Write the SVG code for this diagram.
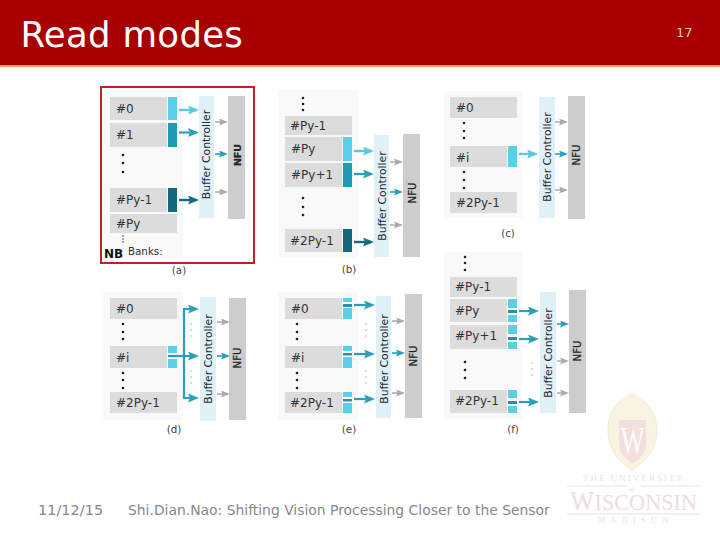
<svg xmlns="http://www.w3.org/2000/svg" width="720" height="540" viewBox="0 0 720 540">
<style>
text{font-family:"DejaVu Sans","Liberation Sans",sans-serif}
.panel{fill:#f9f9f9}
.bank{fill:#dcdcdc}
.bt{font-size:12px;fill:#333}
.bc{fill:#dff0f7}
.nfu{fill:#cdcdcd}
.bct{font-size:10.8px;fill:#1f2a2e;text-anchor:middle}
.nft{font-size:10.2px;fill:#222;stroke:#222;stroke-width:.25;text-anchor:middle}
.cap{font-size:10.3px;fill:#444;text-anchor:middle}
.l{fill:#5bcfe6}.m{fill:#1f9bb5}.d{fill:#14677d}.s{fill:#2b8fa8}
.dot{fill:#222}
.tdot{fill:#8fbcc8}
.al{stroke:#5cc8e0;stroke-width:2.4;fill:none;marker-end:url(#hl)}
.am{stroke:#2aa0b8;stroke-width:2.2;fill:none;marker-end:url(#hm)}
.ad{stroke:#17697f;stroke-width:2.4;fill:none;marker-end:url(#hd)}
.ag{stroke:#aaa;stroke-width:1.5;fill:none;marker-end:url(#hg)}
.as{stroke:#2aa0b8;stroke-width:1.6;fill:none;marker-end:url(#hs)}
.wt{fill:#efdcdc}
text.wt{font-family:"Liberation Serif",serif}
</style>
<defs>
<marker id="hl" markerUnits="userSpaceOnUse" viewBox="0 0 11 9" refX="8" refY="4.5" markerWidth="11" markerHeight="9" orient="auto"><path d="M0,0L11,4.5L0,9L2,4.5Z" fill="#5cc8e0"/></marker>
<marker id="hm" markerUnits="userSpaceOnUse" viewBox="0 0 11 9" refX="8" refY="4.5" markerWidth="11" markerHeight="9" orient="auto"><path d="M0,0L11,4.5L0,9L2,4.5Z" fill="#2aa0b8"/></marker>
<marker id="hd" markerUnits="userSpaceOnUse" viewBox="0 0 11 9" refX="8" refY="4.5" markerWidth="11" markerHeight="9" orient="auto"><path d="M0,0L11,4.5L0,9L2,4.5Z" fill="#17697f"/></marker>
<marker id="hg" markerUnits="userSpaceOnUse" viewBox="0 0 9 7" refX="7" refY="3.5" markerWidth="9" markerHeight="7" orient="auto"><path d="M0,0L9,3.5L0,7L1.5,3.5Z" fill="#aaa"/></marker>
<marker id="hs" markerUnits="userSpaceOnUse" viewBox="0 0 9 7" refX="7" refY="3.5" markerWidth="9" markerHeight="7" orient="auto"><path d="M0,0L9,3.5L0,7L1.5,3.5Z" fill="#2aa0b8"/></marker>
</defs>
<rect width="720" height="540" fill="#fff"/>
<rect width="720" height="65" fill="#a80000"/>
<rect y="65" width="720" height="2" fill="#dba95c"/>
<text x="20.500" y="47" font-size="35.500" letter-spacing=".3" fill="#fff">Read modes</text>
<text x="676" y="37" font-size="13" fill="#eec4c4">17</text>

<g id="logo">
<path d="M632,393C637,396 640,400 645,402C652,408 657,418 657,430C657,450 645,462 632,470C619,462 608,450 608,430C608,418 612,408 619,402C624,400 627,396 632,393Z" fill="#f9f4e2" stroke="#f3ecd0"/>
<path d="M619,420H646V444C646,453 639,460 632.500,463C626,460 619,453 619,444Z" fill="#f4dede"/>
<text transform="translate(632.500 453) scale(.66 1)" font-size="38" text-anchor="middle" fill="#fff" style="font-family:'Liberation Serif',serif">W</text>
<text class="wt" x="583" y="481" font-size="9" textLength="100" lengthAdjust="spacing">THE UNIVERSITY</text>
<text class="wt" x="629" y="491" font-size="7" font-style="italic">of</text>
<path d="M567,486H626M640,486H700M567,514H700" stroke="#eee0e0" fill="none"/>
<text class="wt" x="570" y="510" textLength="127" lengthAdjust="spacingAndGlyphs"><tspan font-size="28">W</tspan><tspan font-size="24">ISCONSIN</tspan></text>
<text class="wt" x="598" y="523" font-size="8" textLength="70" lengthAdjust="spacing">MADISON</text>
</g>

<g id="footer">
<text x="38" y="515" font-size="14.500" fill="#888">11/12/15</text>
<text x="128" y="515" font-size="13.900" fill="#888">Shi.Dian.Nao: Shifting Vision Processing Closer to the Sensor</text>
</g>

<g id="panel-a">
<rect class="panel" x="103" y="90" width="80" height="167"/>
<rect x="101" y="87" width="153" height="176" fill="none" stroke="#c0202a" stroke-width="2"/>
<g id="a-b0"><rect class="bank" x="110" y="97" width="57" height="23"/><rect class="l" x="168" y="97" width="9" height="23"/><text class="bt" x="116" y="113">#0</text></g>
<g id="a-b1"><rect class="bank" x="110" y="123" width="57" height="24"/><rect class="m" x="168" y="123" width="9" height="24"/><text class="bt" x="116" y="139">#1</text></g>
<g id="a-dots"><circle class="dot" cx="123" cy="155" r="1.300"/><circle class="dot" cx="123" cy="163" r="1.300"/><circle class="dot" cx="123" cy="172" r="1.300"/></g>
<g id="a-bpy1"><rect class="bank" x="110" y="188" width="57" height="24"/><rect class="d" x="168" y="188" width="9" height="24"/><text class="bt" x="116" y="204">#Py-1</text></g>
<g id="a-bpy"><rect class="bank" x="110" y="214" width="67" height="19"/><text class="bt" x="116" y="228">#Py</text></g>
<g id="a-dots2"><circle class="dot" cx="123" cy="236" r=".7"/><circle class="dot" cx="123" cy="239" r=".7"/><circle class="dot" cx="123" cy="242" r=".7"/></g>
<g id="a-banks"><text x="104" y="258" font-size="12" font-weight="bold" fill="#111">NB</text><text x="128" y="255" font-size="10.300" fill="#333">Banks:</text></g>
<g id="a-bc"><rect class="bc" x="199" y="96" width="15" height="122"/><text class="bct" transform="translate(210 154.500) rotate(-90)">Buffer Controller</text></g>
<g id="a-nfu"><rect class="nfu" x="228" y="96" width="17" height="123"/><text class="nft" transform="translate(241 155) rotate(-90)" style="font-size:9.500px;font-weight:bold">NFU</text></g>
<text class="cap" x="179" y="274">(a)</text>
<g class="connectors">
<path class="al" d="M179,110H196"/><path class="am" d="M179,132.500H196"/><path class="ad" d="M179,200H196"/>
<path class="ag" d="M215,122H226"/><path class="as" d="M215,154H226"/><path class="ag" d="M215,192H226"/>
</g>
</g>

<g id="panel-b">
<rect class="panel" x="278" y="90" width="80" height="168"/>
<g id="b-dots"><circle class="dot" cx="303" cy="98" r="1.300"/><circle class="dot" cx="303" cy="104" r="1.300"/><circle class="dot" cx="303" cy="110" r="1.300"/></g>
<g id="b-bpy1"><rect class="bank" x="285" y="116" width="67" height="19"/><text class="bt" x="290" y="130">#Py-1</text></g>
<g id="b-bpy"><rect class="bank" x="285" y="137" width="57" height="24"/><rect class="l" x="343" y="137" width="9" height="24"/><text class="bt" x="291" y="153">#Py</text></g>
<g id="b-bpy2"><rect class="bank" x="285" y="163" width="57" height="24"/><rect class="m" x="343" y="163" width="9" height="24"/><text class="bt" x="291" y="179">#Py+1</text></g>
<g id="b-dots2"><circle class="dot" cx="303" cy="198" r="1.300"/><circle class="dot" cx="303" cy="207" r="1.300"/><circle class="dot" cx="303" cy="215" r="1.300"/></g>
<g id="b-b2py"><rect class="bank" x="285" y="229" width="57" height="23"/><rect class="d" x="343" y="229" width="9" height="23"/><text class="bt" x="290" y="245">#2Py-1</text></g>
<g id="b-bc"><rect class="bc" x="374" y="135" width="15" height="122"/><text class="bct" transform="translate(386 196) rotate(-90)">Buffer Controller</text></g>
<g id="b-nfu"><rect class="nfu" x="403" y="134" width="17" height="123"/><text class="nft" transform="translate(415.500 193) rotate(-90)">NFU</text></g>
<text class="cap" x="349" y="273">(b)</text>
<g class="connectors">
<path class="al" d="M354,151H371"/><path class="am" d="M354,174H371"/><path class="ad" d="M354,242H371"/>
<path class="ag" d="M390,162H401"/><path class="as" d="M390,192H401"/><path class="ag" d="M390,225H401"/>
</g>
</g>

<g id="panel-c">
<rect class="panel" x="444" y="91" width="79" height="127"/>
<g id="c-b0"><rect class="bank" x="450" y="97" width="67" height="21"/><text class="bt" x="456" y="112">#0</text></g>
<g id="c-dots"><circle class="dot" cx="464" cy="123" r="1.300"/><circle class="dot" cx="464" cy="131" r="1.300"/><circle class="dot" cx="464" cy="138" r="1.300"/></g>
<g id="c-bi"><rect class="bank" x="450" y="146" width="57" height="21"/><rect class="l" x="508" y="146" width="9" height="21"/><text class="bt" x="456" y="162">#i</text></g>
<g id="c-dots2"><circle class="dot" cx="464" cy="172" r="1.300"/><circle class="dot" cx="464" cy="180" r="1.300"/><circle class="dot" cx="464" cy="188" r="1.300"/></g>
<g id="c-b2py"><rect class="bank" x="450" y="192" width="67" height="21"/><text class="bt" x="456" y="207">#2Py-1</text></g>
<g id="c-bc"><rect class="bc" x="539" y="97" width="16" height="121"/><text class="bct" transform="translate(551 157) rotate(-90)">Buffer Controller</text></g>
<g id="c-nfu"><rect class="nfu" x="568" y="96" width="17" height="123"/><text class="nft" transform="translate(580 155) rotate(-90)">NFU</text></g>
<text class="cap" x="508" y="237">(c)</text>
<g class="connectors">
<path class="al" d="M519,154H535"/>
<path class="ag" d="M555,122H566"/><path class="as" d="M555,154H566"/><path class="ag" d="M555,190H566"/>
</g>
</g>

<g id="panel-d">
<rect class="panel" x="103" y="292" width="80" height="128"/>
<g id="d-b0"><rect class="bank" x="110" y="298" width="67" height="21"/><text class="bt" x="116" y="313">#0</text></g>
<g id="d-dots"><circle class="dot" cx="123" cy="324" r="1.300"/><circle class="dot" cx="123" cy="332" r="1.300"/><circle class="dot" cx="123" cy="339" r="1.300"/></g>
<g id="d-bi"><rect class="bank" x="110" y="346" width="57" height="22"/><rect class="l" x="168" y="346" width="9" height="7"/><rect class="l" x="168" y="359" width="9" height="9"/><text class="bt" x="116" y="362">#i</text></g>
<g id="d-dots2"><circle class="dot" cx="123" cy="373" r="1.300"/><circle class="dot" cx="123" cy="380" r="1.300"/><circle class="dot" cx="123" cy="388" r="1.300"/></g>
<g id="d-b2py"><rect class="bank" x="110" y="392" width="67" height="21"/><text class="bt" x="116" y="407">#2Py-1</text></g>
<g id="d-bc"><rect class="bc" x="200" y="297" width="16" height="124"/><text class="bct" transform="translate(212 359) rotate(-90)">Buffer Controller</text></g>
<g id="d-nfu"><rect class="nfu" x="229" y="298" width="17" height="122"/><text class="nft" transform="translate(241 358) rotate(-90)">NFU</text></g>
<g id="d-tdots"><circle class="tdot" cx="191" cy="324" r=".8"/><circle class="tdot" cx="191" cy="330" r=".8"/><circle class="tdot" cx="191" cy="336" r=".8"/><circle class="tdot" cx="191" cy="371" r=".8"/><circle class="tdot" cx="191" cy="377" r=".8"/><circle class="tdot" cx="191" cy="383" r=".8"/></g>
<text class="cap" x="174" y="433">(d)</text>
<g class="connectors">
<path class="am" d="M168,356H196"/><path class="am" d="M184,356V309H196"/><path class="am" d="M184,356V398H196"/>
<path class="ag" d="M217,322H228"/><path class="as" d="M217,356H228"/><path class="ag" d="M217,394H228"/>
</g>
</g>

<g id="panel-e">
<rect class="panel" x="278" y="292" width="80" height="128"/>
<g id="e-b0"><rect class="bank" x="285" y="298" width="57" height="21"/><rect class="l" x="343" y="298" width="9" height="4"/><rect class="s" x="343" y="304" width="9" height="3"/><rect class="l" x="343" y="308" width="9" height="11"/><text class="bt" x="291" y="313">#0</text></g>
<g id="e-dots"><circle class="dot" cx="297" cy="324" r="1.300"/><circle class="dot" cx="297" cy="332" r="1.300"/><circle class="dot" cx="297" cy="339" r="1.300"/></g>
<g id="e-bi"><rect class="bank" x="285" y="346" width="57" height="22"/><rect class="l" x="343" y="346" width="9" height="5"/><rect class="s" x="343" y="353" width="9" height="2.500"/><rect class="l" x="343" y="357" width="9" height="11"/><text class="bt" x="291" y="362">#i</text></g>
<g id="e-dots2"><circle class="dot" cx="297" cy="373" r="1.300"/><circle class="dot" cx="297" cy="380" r="1.300"/><circle class="dot" cx="297" cy="388" r="1.300"/></g>
<g id="e-b2py"><rect class="bank" x="285" y="392" width="57" height="21"/><rect class="l" x="343" y="392" width="9" height="5"/><rect class="s" x="343" y="399" width="9" height="2.500"/><rect class="l" x="343" y="403" width="9" height="10"/><text class="bt" x="290" y="407">#2Py-1</text></g>
<g id="e-bc"><rect class="bc" x="376" y="296" width="15" height="122"/><text class="bct" transform="translate(388 359) rotate(-90)">Buffer Controller</text></g>
<g id="e-nfu"><rect class="nfu" x="405" y="294" width="17" height="124"/><text class="nft" transform="translate(417 356) rotate(-90)">NFU</text></g>
<g id="e-tdots"><circle class="tdot" cx="366" cy="324" r=".8"/><circle class="tdot" cx="366" cy="330" r=".8"/><circle class="tdot" cx="366" cy="336" r=".8"/><circle class="tdot" cx="366" cy="371" r=".8"/><circle class="tdot" cx="366" cy="377" r=".8"/><circle class="tdot" cx="366" cy="383" r=".8"/></g>
<text class="cap" x="349" y="433">(e)</text>
<g class="connectors">
<path class="am" d="M354,305H372"/><path class="am" d="M354,354H372"/><path class="am" d="M354,399H372"/>
<path class="ag" d="M392,321H403"/><path class="as" d="M392,353H403"/><path class="ag" d="M392,393H403"/>
</g>
</g>

<g id="panel-f">
<rect class="panel" x="444" y="252" width="79" height="167"/>
<g id="f-dots"><circle class="dot" cx="465" cy="257" r="1.300"/><circle class="dot" cx="465" cy="263" r="1.300"/><circle class="dot" cx="465" cy="270" r="1.300"/></g>
<g id="f-bpy1"><rect class="bank" x="450" y="277" width="67" height="20"/><text class="bt" x="455" y="291">#Py-1</text></g>
<g id="f-bpy"><rect class="bank" x="450" y="299" width="57" height="23"/><rect class="l" x="508" y="299" width="9" height="9"/><rect class="s" x="508" y="310" width="9" height="3"/><rect class="l" x="508" y="315" width="9" height="7"/><text class="bt" x="455" y="315">#Py</text></g>
<g id="f-bpy2"><rect class="bank" x="450" y="325" width="57" height="24"/><rect class="l" x="508" y="325" width="9" height="9"/><rect class="s" x="508" y="337" width="9" height="3"/><rect class="l" x="508" y="342" width="9" height="7"/><text class="bt" x="455" y="340">#Py+1</text></g>
<g id="f-dots2"><circle class="dot" cx="465" cy="362" r="1.300"/><circle class="dot" cx="465" cy="370" r="1.300"/><circle class="dot" cx="465" cy="378" r="1.300"/></g>
<g id="f-b2py"><rect class="bank" x="450" y="390" width="57" height="23"/><rect class="l" x="508" y="390" width="9" height="8"/><rect class="s" x="508" y="401" width="9" height="3"/><rect class="l" x="508" y="406" width="9" height="7"/><text class="bt" x="455" y="405">#2Py-1</text></g>
<g id="f-bc"><rect class="bc" x="540" y="292" width="16" height="121"/><text class="bct" transform="translate(552 353) rotate(-90)">Buffer Controller</text></g>
<g id="f-nfu"><rect class="nfu" x="569" y="290" width="17" height="123"/><text class="nft" transform="translate(581 351) rotate(-90)">NFU</text></g>
<g id="f-tdots"><circle class="tdot" cx="532" cy="363" r=".8"/><circle class="tdot" cx="532" cy="369" r=".8"/><circle class="tdot" cx="532" cy="375" r=".8"/></g>
<text class="cap" x="513" y="433">(f)</text>
<g class="connectors">
<path class="am" d="M519,311H536"/><path class="am" d="M519,339H536"/><path class="am" d="M519,402H536"/>
<path class="as" d="M557,324H567"/><path class="ag" d="M557,361H567"/><path class="ag" d="M557,393H567"/>
</g>
</g>
</svg>
